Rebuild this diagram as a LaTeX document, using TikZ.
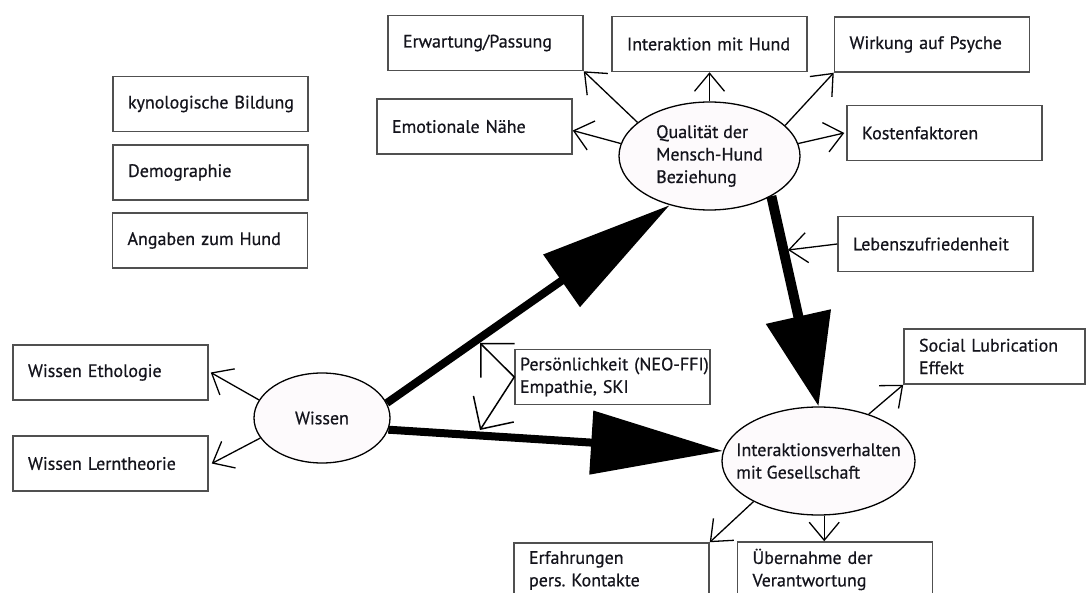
\documentclass[tikz,border=0pt]{standalone}
\usepackage{fontspec}
\setmainfont{PT Sans}[FakeBold=0.6]
\usetikzlibrary{arrows.meta,shapes.geometric}
\definecolor{boxgray}{HTML}{505050}
\definecolor{ovalfill}{HTML}{FDFAFC}
\definecolor{txt}{HTML}{14141C}
\newcommand{\dfont}{\fontsize{18}{22.5}\selectfont\frenchspacing\hyphenpenalty=10000\exhyphenpenalty=10000}
\tikzset{
  box/.style={draw=boxgray, line width=1.5pt, fill=white, minimum width=195pt,
    minimum height=55pt, text width=165pt, align=left, inner xsep=15pt,
    inner ysep=0pt, font=\dfont, text=txt},
  oval/.style={ellipse, draw=black, line width=1.3pt, fill=ovalfill, inner xsep=-20pt,
    inner ysep=0pt, align=left, font=\dfont, text=txt},
  thinarrow/.style={line width=1.3pt, -{Straight Barb[length=18pt,width=30pt]}},
  heavyarrow/.style={line width=8pt, -{Triangle[length=132pt,width=62pt]}},
  vheavyarrow/.style={line width=10pt, -{Triangle[length=92pt,width=64pt]}},
  bracketarrow/.style={line width=1.5pt, {Straight Barb[length=24pt,width=48pt]}-{Straight Barb[length=24pt,width=48pt]}}
}
\begin{document}
\begin{tikzpicture}[x=1pt,y=-1pt]
\useasboundingbox (0,0) rectangle (1086,593);
\clip (0,0) rectangle (1086,593);
\fill[white] (0,0) rectangle (1086,593);

% boxes
\node[box] (erw)   at (485.5,43)   {Erwartung/Passung};
\node[box] (emo)   at (474.5,126.5){Emotionale Nähe};
\node[box] (ihund) at (709.5,44)   {\mbox{Interaktion mit Hund}};
\node[box] (wirk)  at (932,44.5)   {\mbox{Wirkung auf Psyche}};
\node[box] (kost)  at (944.5,133)  {Kostenfaktoren};
\node[box] (leben) at (935.5,244)  {Lebenszufriedenheit};
\node[box, minimum width=181pt, text width=151pt] (social) at (994.5,356.5) {\mbox{Social Lubrication}\\Effekt};
\node[box, text width=185pt, inner xsep=5pt] (pers)  at (612.5,377)  {\mbox{Persönlichkeit (NEO-FFI)}\\Empathie, SKI};
\node[box] (kyn)   at (210.5,104)  {\mbox{kynologische Bildung}};
\node[box] (demo)  at (210.5,172.5){Demographie};
\node[box] (angab) at (210,240.5)  {\mbox{Angaben zum Hund}};
\node[box] (weth)  at (110.5,372.5){\mbox{Wissen Ethologie}};
\node[box] (wlern) at (110.5,463.5){\mbox{Wissen Lerntheorie}};
\node[box] (erf)   at (611.5,570.5){Erfahrungen\\\mbox{pers. Kontakte}};
\node[box] (ueb)   at (835,569.5)  {\mbox{Übernahme der}\\Verantwortung};

% ellipses
\node[oval, minimum width=181pt, minimum height=108pt] (qual) at (709.5,156) {Qualität der\\Mensch-Hund\\Beziehung};
\node[oval, minimum width=193pt, minimum height=108pt] (inter) at (818.5,461) {Interaktionsverhalten\\mit Gesellschaft};
\node[oval, minimum width=136pt, minimum height=90pt, align=center] (wissen) at (322,418) {Wissen};

% free ends
\coordinate (lebtip) at (788,250);
\coordinate (pu) at (480,343);
\coordinate (pl) at (480,430);

% heavy arrows
\draw[heavyarrow] (wissen.13) -- (qual.231);
\draw[heavyarrow] (wissen.-10) -- (inter.174);
\draw[vheavyarrow] (qual.-33) -- (inter.north);

% thin arrows
\draw[thinarrow] (qual.155) -- (erw.south east);
\draw[thinarrow] (qual.172) -- ([yshift=-4pt]emo.east);
\draw[thinarrow] (qual.north) -- (ihund.south);
\draw[thinarrow] (qual.22) -- (wirk.south west);
\draw[thinarrow] (qual.8) -- ([xshift=-2pt]kost.west);
\draw[thinarrow] (leben.west) -- (lebtip);
\draw[thinarrow] (inter.43) -- (social.south west);
\draw[thinarrow] (inter.-84) -- (inter.-84 |- ueb.north);
\draw[thinarrow] (inter.212) -- (erf.north east);
\draw[thinarrow] (wissen.164) -- ([xshift=2pt]weth.east);
\draw[thinarrow] (wissen.198) -- ([xshift=3pt]wlern.east);

% bracket arrow
\draw[bracketarrow] (pu) -- (pers.west) -- (pl);
\end{tikzpicture}
\end{document}
